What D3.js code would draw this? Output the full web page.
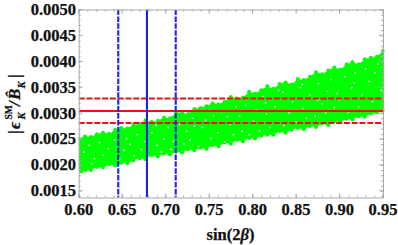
<!DOCTYPE html>
<html><head><meta charset="utf-8">
<script src="https://cdn.jsdelivr.net/npm/d3@7"></script>
<style>
html,body{margin:0;padding:0;background:#fff}
svg{display:block}
text{font-family:"Liberation Serif",serif;font-weight:bold;fill:#111;stroke:#111;stroke-width:.25px}
</style></head><body>
<svg id="c" width="398" height="245"></svg>
<script>
const xTicks=[0.60,0.65,0.70,0.75,0.80,0.85,0.90,0.95];
const yTicks=[0.0015,0.0020,0.0025,0.0030,0.0035,0.0040,0.0045,0.0050];
const redSolid=[0.00304];
const redDashed=[0.00281,0.00328];
const blueSolid=[0.6785];
const blueDashed=[0.6455,0.7116];
const upperSin=[0.600,0.607,0.614,0.621,0.628,0.635,0.642,0.649,0.656,0.663,0.670,0.677,0.684,0.691,0.698,0.705,0.712,0.719,0.726,0.733,0.740,0.747,0.754,0.761,0.768,0.775,0.782,0.789,0.796,0.803,0.810,0.817,0.824,0.831,0.838,0.845,0.852,0.859,0.866,0.873,0.880,0.887,0.894,0.901,0.908,0.915,0.922,0.929,0.936,0.943,0.950];
const upperVal=[0.00251,0.00255,0.00254,0.00259,0.00262,0.00260,0.00268,0.00271,0.00270,0.00277,0.00279,0.00286,0.00283,0.00285,0.00291,0.00290,0.00301,0.00300,0.00298,0.00308,0.00310,0.00313,0.00319,0.00317,0.00322,0.00331,0.00328,0.00330,0.00341,0.00338,0.00344,0.00352,0.00347,0.00356,0.00359,0.00355,0.00366,0.00364,0.00370,0.00379,0.00375,0.00382,0.00388,0.00384,0.00394,0.00398,0.00394,0.00404,0.00407,0.00409,0.00420];
const lowerSin=[0.600,0.603,0.608,0.614,0.621,0.628,0.635,0.642,0.649,0.656,0.663,0.670,0.677,0.684,0.691,0.698,0.705,0.712,0.719,0.726,0.733,0.740,0.747,0.754,0.761,0.768,0.775,0.782,0.789,0.796,0.803,0.810,0.817,0.824,0.831,0.838,0.845,0.852,0.859,0.866,0.873,0.880,0.887,0.894,0.901,0.908,0.915,0.922,0.929,0.936,0.943,0.950];
const lowerVal=[0.00195,0.00187,0.00190,0.00190,0.00196,0.00195,0.00201,0.00199,0.00204,0.00203,0.00209,0.00213,0.00211,0.00219,0.00216,0.00222,0.00220,0.00226,0.00224,0.00230,0.00228,0.00233,0.00231,0.00238,0.00236,0.00243,0.00241,0.00248,0.00245,0.00252,0.00251,0.00256,0.00258,0.00258,0.00265,0.00262,0.00268,0.00271,0.00269,0.00275,0.00273,0.00280,0.00277,0.00284,0.00283,0.00289,0.00288,0.00294,0.00293,0.00299,0.00301,0.00306];
const gapSin=[0.606,0.612,0.618,0.624,0.628,0.634,0.641,0.647,0.652,0.659,0.664,0.667,0.672,0.676,0.684,0.690,0.695,0.698,0.703,0.706,0.712,0.716,0.721,0.724,0.728,0.731,0.738,0.742,0.746,0.752,0.755,0.760,0.764,0.768,0.774,0.778,0.781,0.785,0.788,0.793,0.796,0.801,0.804,0.808,0.812,0.816,0.820,0.826,0.830,0.836,0.842,0.846,0.850,0.855,0.858,0.862,0.866,0.872,0.876,0.880,0.884,0.886,0.890,0.894,0.900,0.906,0.910,0.914,0.918,0.922,0.926,0.930,0.934,0.938,0.944,0.948,0.615,0.637,0.655,0.689,0.709,0.733,0.751,0.771,0.792,0.815,0.835,0.857,0.875,0.897,0.917,0.941];
const gapVal=[0.00225,0.00238,0.00212,0.00243,0.00219,0.00231,0.00248,0.00212,0.00228,0.00240,0.00217,0.00258,0.00229,0.00245,0.00262,0.00238,0.00225,0.00250,0.00272,0.00230,0.00256,0.00278,0.00241,0.00265,0.00248,0.00290,0.00236,0.00272,0.00286,0.00251,0.00295,0.00262,0.00303,0.00244,0.00279,0.00258,0.00312,0.00295,0.00265,0.00327,0.00258,0.00285,0.00306,0.00266,0.00332,0.00298,0.00272,0.00312,0.00344,0.00276,0.00300,0.00322,0.00283,0.00349,0.00309,0.00290,0.00335,0.00294,0.00357,0.00318,0.00300,0.00342,0.00365,0.00311,0.00326,0.00370,0.00301,0.00349,0.00378,0.00312,0.00335,0.00385,0.00361,0.00322,0.00395,0.00344,0.00202,0.00264,0.00251,0.00276,0.00245,0.00275,0.00305,0.00293,0.00315,0.00320,0.00340,0.00355,0.00325,0.00338,0.00358,0.00378];
const xLabelA="sin(2";
const xLabelB="β";
const xLabelC=")";

const svg=d3.select("#c");
const x=d3.scaleLinear().domain([0.60,0.95]).range([78.7,383]);
const y=d3.scaleLinear().domain([0.0050,0.00137]).range([9.5,197.5]);
const green="#00ff00",gray="#a8a8a8";
const plot=svg.append("g");
svg.append("clipPath").attr("id","pc").append("rect").attr("x",x(0.60)).attr("y",y(0.005)).attr("width",x(0.95)-x(0.60)+1.5).attr("height",y(0.00137)-y(0.005));
const g=plot.append("g").attr("clip-path","url(#pc)");
const upper=upperSin.map((s,i)=>[s,upperVal[i]]);
const lower=lowerSin.map((s,i)=>[s,lowerVal[i]]);
const poly=upper.concat(lower.slice().reverse());
g.append("path").attr("d",d3.line().x(d=>x(d[0])).y(d=>y(d[1]))(poly)).attr("fill",green);
g.selectAll("circle.e").data(upper.concat(lower)).join("circle").attr("class","e")
 .attr("cx",d=>x(d[0])).attr("cy",d=>y(d[1])).attr("r",2).attr("fill",green);
g.selectAll("circle.h").data(gapSin.map((s,i)=>[s,gapVal[i]])).join("circle").attr("class","h")
 .attr("cx",d=>x(d[0])).attr("cy",d=>y(d[1])).attr("r",1).attr("fill","#fff").attr("opacity",.85);

const hl=(v,dash)=>g.append("line").attr("x1",x.range()[0]).attr("x2",x.range()[1]).attr("y1",y(v)).attr("y2",y(v))
 .attr("stroke","#ee1111").attr("stroke-width",2).attr("stroke-dasharray",dash?"6 1.8":null);
redSolid.forEach(v=>hl(v,false));redDashed.forEach(v=>hl(v,true));
const vl=(v,dash)=>g.append("line").attr("y1",y.range()[0]).attr("y2",y.range()[1]).attr("x1",x(v)).attr("x2",x(v))
 .attr("stroke","#1f1ff0").attr("stroke-width",2.1).attr("stroke-dasharray",dash?"5.5 1.4":null);
blueSolid.forEach(v=>vl(v,false));blueDashed.forEach(v=>vl(v,true));

const fmtX=d3.format(".2f"),fmtY=d3.format(".4f");
const xMinor=d3.range(0,36).map(i=>+(0.60+i*0.01).toFixed(2));
const yMinor=d3.range(0,37).map(i=>+(0.0014+i*0.0001).toFixed(4));
function style(a){a.select(".domain").attr("stroke",gray).attr("stroke-width",1);a.selectAll("line").attr("stroke",gray).attr("stroke-width",1);a.selectAll("text").remove();}
[[d3.axisBottom(x),y.range()[1],false],[d3.axisTop(x),y.range()[0],true]].forEach(([ax,dy,top])=>{
  const a=svg.append("g").attr("transform",`translate(0,${dy})`);
  a.call(ax.tickValues(xMinor).tickSizeOuter(0));
  a.selectAll(".tick line").attr("y2",top?2:-2);
  style(a);
  const b=svg.append("g").attr("transform",`translate(0,${dy})`);
  b.selectAll("line").data(xTicks).join("line").attr("x1",d=>x(d)).attr("x2",d=>x(d)).attr("y1",0).attr("y2",top?4:-4).attr("stroke",gray);
});
[[d3.axisLeft(y),x.range()[0],true],[d3.axisRight(y),x.range()[1],false]].forEach(([ax,dx,left])=>{
  const a=svg.append("g").attr("transform",`translate(${dx},0)`);
  a.call(ax.tickValues(yMinor).tickSizeOuter(0));
  a.selectAll(".tick line").attr("x2",left?2:-2);
  style(a);
  const b=svg.append("g").attr("transform",`translate(${dx},0)`);
  b.selectAll("line").data(yTicks).join("line").attr("y1",d=>y(d)).attr("y2",d=>y(d)).attr("x1",0).attr("x2",left?4:-4).attr("stroke",gray);
});
svg.selectAll("text.xt").data(xTicks).join("text").attr("class","xt").attr("x",d=>x(d)).attr("y",215)
 .attr("text-anchor","middle").attr("font-size",16.5).text(fmtX);
svg.selectAll("text.yt").data(yTicks).join("text").attr("class","yt").attr("x",76).attr("y",d=>y(d)+5.5)
 .attr("text-anchor","end").attr("font-size",16.5).text(fmtY);
const xl=svg.append("text").attr("x",230.5).attr("y",240).attr("text-anchor","middle").attr("font-size",16.5);
xl.append("tspan").text(xLabelA);
xl.append("tspan").attr("font-style","italic").text(xLabelB);
xl.append("tspan").text(xLabelC);

const lab=svg.append("g").attr("transform","translate(20,134) rotate(-90)");
const t=(s,dx,dy,size,it)=>lab.append("text").attr("x",dx).attr("y",dy).attr("font-size",size).attr("font-style",it?"italic":"normal").text(s);
t("|",0,0,17,false);
t("ϵ",5,0,17,true);
t("K",14.5,4.5,10.5,true);
t("SM",14.5,-8,9.5,false);
t("/",28,0,17,true);
t("B̂",34,0,17,true);
t("K",45.5,4.5,10.5,true);
t("|",56,0,17,false);
</script>
</body></html>
